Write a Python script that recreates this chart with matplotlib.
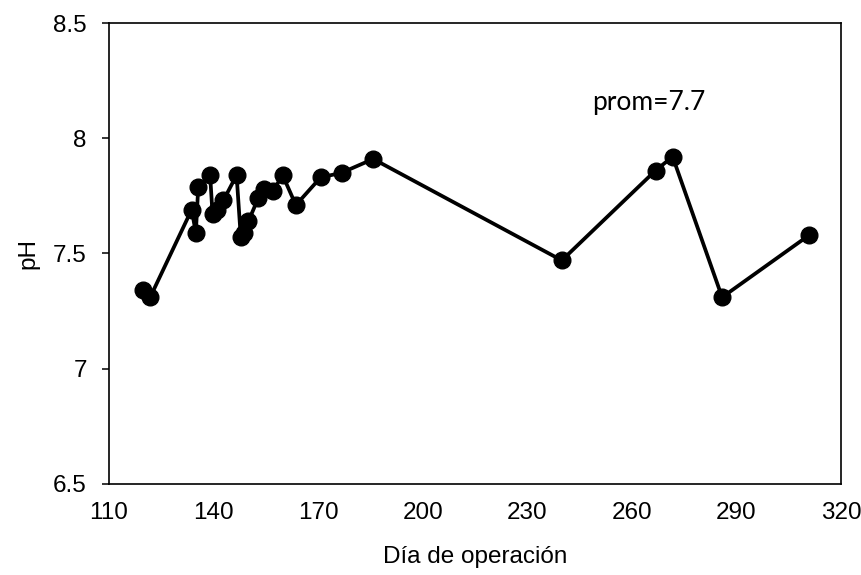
import matplotlib
matplotlib.use("Agg")
from matplotlib import pyplot as plt

# dia de operacion vs pH
dia = [119.7, 121.8, 133.7, 134.9, 135.6, 139.0, 139.7, 141.0, 142.8,
       146.6, 147.8, 148.6, 150.0, 152.8, 154.6, 157.0, 159.8, 163.6,
       170.7, 176.7, 185.8, 239.9, 266.8, 271.7, 285.9, 310.9]
ph = [7.34, 7.31, 7.69, 7.59, 7.79, 7.84, 7.67, 7.69, 7.73,
      7.84, 7.57, 7.59, 7.64, 7.74, 7.78, 7.77, 7.84, 7.71,
      7.83, 7.85, 7.91, 7.47, 7.86, 7.92, 7.31, 7.58]

xticks = [110, 140, 170, 200, 230, 260, 290, 320]
yticks = [6.5, 7, 7.5, 8, 8.5]
ytick_labels = ["6.5", "7", "7.5", "8", "8.5"]

plt.rcParams['font.family'] = ['Liberation Sans', 'DejaVu Sans']

fig = plt.figure(figsize=(8.62, 5.75), dpi=100)
ax = fig.add_axes([0.1265, 0.1583, 0.8491, 0.8017])

ax.plot(dia, ph, '-o', color='black', lw=2.7, markersize=12)

ax.set_xlim(110, 320)
ax.set_ylim(6.5, 8.5)
ax.set_xticks(xticks)
ax.set_yticks(yticks)
ax.set_yticklabels(ytick_labels)
ax.tick_params(axis='y', direction='out', length=5, width=1.1, pad=11, labelsize=17.5)
ax.tick_params(axis='x', length=0, pad=13, labelsize=17.5)
for s in ax.spines.values():
    s.set_linewidth(1.2)

ax.set_xlabel("Día de operación", fontsize=17.5, labelpad=16)
ax.set_ylabel("pH", fontsize=17.5, labelpad=10)

ax.text(248.6, 8.153, "prom=7.7", fontsize=19, family=['Lato', 'DejaVu Sans'],
        va='center', ha='left')

fig.savefig("out.png", dpi=100)
